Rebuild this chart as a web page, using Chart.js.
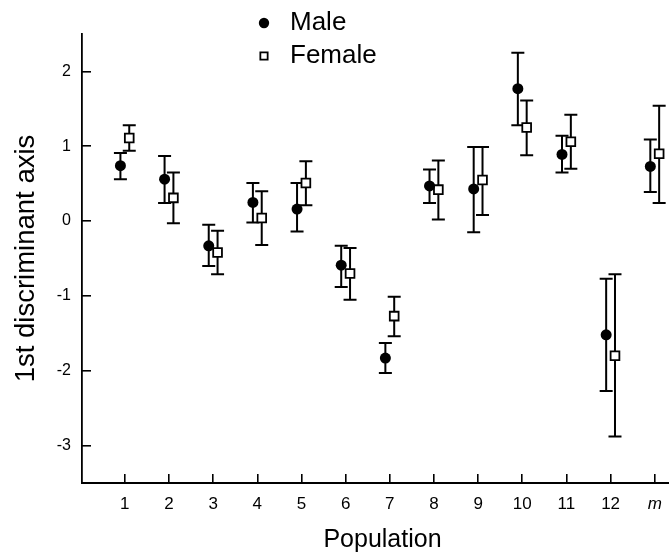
<!DOCTYPE html>
<html><head><meta charset="utf-8">
<script src="https://cdn.jsdelivr.net/npm/chart.js@4.4.0/dist/chart.umd.min.js"></script>
<style>
html,body{margin:0;padding:0;background:#fff;overflow:hidden;width:669px;height:556px;}
#wrap{position:absolute;left:0;top:0;width:691px;height:556px;}
</style></head><body>
<div id="wrap"><canvas id="c" width="691" height="556"></canvas></div>
<script>
// ---- data ----
const categories = ['1','2','3','4','5','6','7','8','9','10','11','12','m'];
const xPos = [1,2,3,4,5,6,7,8,9,10,11,12,13];
const maleMean = [0.74, 0.56, -0.33, 0.25, 0.16, -0.59, -1.83, 0.47, 0.43, 1.77, 0.89, -1.52, 0.73];
const maleHigh = [0.91, 0.87, -0.05, 0.51, 0.51, -0.33, -1.63, 0.69, 0.99, 2.25, 1.14, -0.77, 1.09];
const maleLow  = [0.56, 0.24, -0.60, -0.02, -0.14, -0.88, -2.03, 0.24, -0.15, 1.28, 0.65, -2.27, 0.39];
const femaleMean = [1.11, 0.31, -0.42, 0.04, 0.51, -0.70, -1.27, 0.42, 0.55, 1.25, 1.06, -1.80, 0.90];
const femaleHigh = [1.28, 0.65, -0.13, 0.40, 0.80, -0.36, -1.01, 0.81, 0.99, 1.61, 1.42, -0.71, 1.54];
const femaleLow  = [0.94, -0.03, -0.71, -0.32, 0.21, -1.05, -1.54, 0.02, 0.08, 0.88, 0.70, -2.88, 0.24];
const yTicks = [-3, -2, -1, 0, 1, 2];
const yTickLabels = ['-3', '-2', '-1', '0', '1', '2'];
const offset = 0.1;

const FONT = "'Liberation Sans', Arial, Helvetica, sans-serif";

const errorBars = {
  id: 'errorBars',
  beforeDatasetsDraw(chart) {
    const {ctx, scales: {x, y}} = chart;
    ctx.save();
    ctx.strokeStyle = '#000';
    ctx.lineWidth = 2;
    const cap = 6.5;
    const draw = (xv, lo, hi) => {
      const px = x.getPixelForValue(xv), pl = y.getPixelForValue(lo), ph = y.getPixelForValue(hi);
      ctx.beginPath();
      ctx.moveTo(px, pl); ctx.lineTo(px, ph);
      ctx.moveTo(px - cap, pl); ctx.lineTo(px + cap, pl);
      ctx.moveTo(px - cap, ph); ctx.lineTo(px + cap, ph);
      ctx.stroke();
    };
    xPos.forEach((v, i) => {
      draw(v - offset, maleLow[i], maleHigh[i]);
      draw(v + offset, femaleLow[i], femaleHigh[i]);
    });
    ctx.restore();
  }
};

const legendPlace = {
  id: 'legendPlace',
  afterLayout(chart) {
    const l = chart.legend;
    if (!l) return;
    const w = l.width;
    l.left = 244; l.right = l.left + w;
    l.top = 3; l.height = 110; l.bottom = l.top + l.height;
  }
};

new Chart(document.getElementById('c'), {
  type: 'scatter',
  data: {
    datasets: [
      {
        label: 'Male',
        data: xPos.map((v, i) => ({x: v - offset, y: maleMean[i]})),
        pointStyle: 'circle',
        pointRadius: 5.5,
        pointHoverRadius: 5.5,
        backgroundColor: '#000',
        borderColor: '#000',
        borderWidth: 0
      },
      {
        label: 'Female',
        data: xPos.map((v, i) => ({x: v + offset, y: femaleMean[i]})),
        pointStyle: 'rect',
        pointRadius: 6.2,
        pointHoverRadius: 6.2,
        backgroundColor: '#fff',
        borderColor: '#000',
        borderWidth: 1.8
      }
    ]
  },
  options: {
    responsive: false,
    animation: false,
    layout: {padding: {top: 34, left: 0, right: 0, bottom: 0}},
    plugins: {
      tooltip: {enabled: false},
      legend: {
        position: 'chartArea',
        align: 'start',
        labels: {
          usePointStyle: true,
          boxWidth: 26,
          boxHeight: 7.3,
          padding: 7,
          color: '#000',
          font: {family: FONT, size: 26}
        }
      }
    },
    scales: {
      x: {
        type: 'linear',
        min: 0.03,
        max: 13.64,
        afterBuildTicks: (s) => { s.ticks = xPos.map(v => ({value: v})); },
        afterFit: (s) => { s.height = 73; },
        ticks: {
          autoSkip: false,
          maxRotation: 0,
          padding: 20,
          color: '#000',
          callback: (v) => { const i = xPos.indexOf(v); return i >= 0 ? categories[i] : ''; },
          font: (c) => ({family: FONT, size: 17, style: (c.tick && c.tick.value === 13) ? 'italic' : 'normal'})
        },
        grid: {display: true, drawOnChartArea: false, drawTicks: true, tickLength: -9, color: '#000', lineWidth: 1.6},
        border: {display: true, color: '#000', width: 2},
        title: {display: true, text: 'Population', color: '#000', font: {family: FONT, size: 25}, padding: {top: 0, bottom: 1}}
      },
      y: {
        type: 'linear',
        min: -3.5,
        max: 2.5,
        afterBuildTicks: (s) => { s.ticks = yTicks.map(v => ({value: v})); },
        afterFit: (s) => { s.width = 82; },
        ticks: {
          padding: 20,
          color: '#000',
          callback: (v) => { const i = yTicks.indexOf(v); return i >= 0 ? yTickLabels[i] : ''; },
          font: {family: FONT, size: 16}
        },
        grid: {display: true, drawOnChartArea: false, drawTicks: true, tickLength: -9, color: '#000', lineWidth: 1.6},
        border: {display: true, color: '#000', width: 1.8},
        title: {display: true, text: '1st discriminant axis', color: '#000', font: {family: FONT, size: 27.5}, padding: {top: 10, bottom: 0}}
      }
    }
  },
  plugins: [errorBars, legendPlace]
});
</script>
</body></html>
